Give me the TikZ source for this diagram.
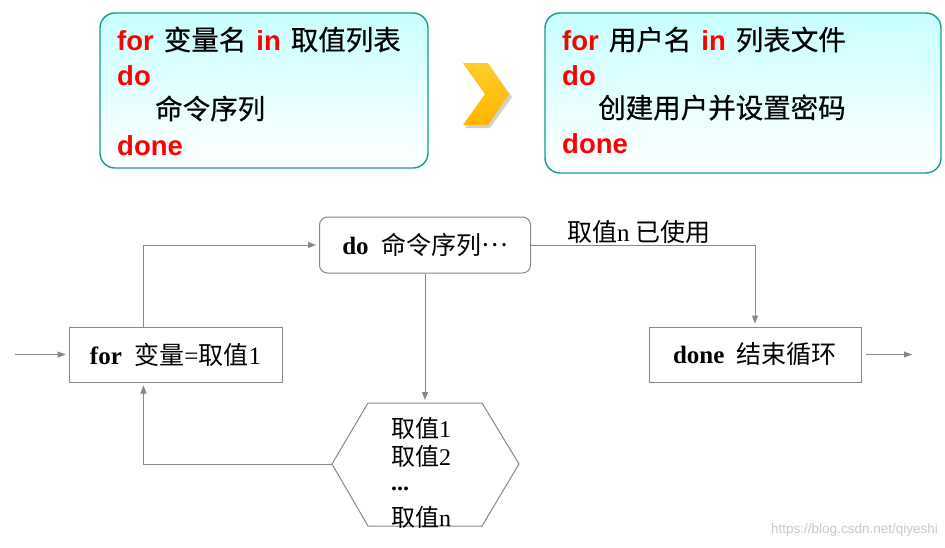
\documentclass[tikz,border=0pt]{standalone}
\usepackage{fontspec}
\setmainfont{Liberation Serif}
\newfontfamily\cjk{Noto Sans CJK SC}
\newfontfamily\cjkb[FakeBold=0.5]{Noto Sans CJK SC}
\newfontfamily\arial{Liberation Sans}
\usetikzlibrary{arrows.meta,calc}
\definecolor{teal0}{RGB}{20,155,145}
\definecolor{cyan0}{RGB}{200,255,255}
\definecolor{lgray}{RGB}{135,135,135}
\definecolor{kred}{RGB}{255,0,0}
\definecolor{gold1}{RGB}{255,205,40}
\definecolor{gold2}{RGB}{255,180,0}
\newcommand{\kw}[1]{\textcolor{kred}{\arial\bfseries #1}}
\newcommand{\gap}{\hspace{10pt}}
\begin{document}
\begin{tikzpicture}[x=1pt,y=-1pt,
  topbox/.style={draw=teal0, line width=1.4pt, rounded corners=15pt, top color=cyan0, bottom color=white, inner sep=0pt},
  toptxt/.style={anchor=base west, inner sep=0pt, font=\fontsize{27.5}{30}\selectfont},
  flowbox/.style={draw=lgray, line width=1pt, minimum width=212pt, minimum height=55pt, inner sep=0pt, fill=white, font=\fontsize{25}{29}\selectfont},
  hextxt/.style={anchor=base west, inner sep=0pt, font=\fontsize{24}{28}\selectfont},
  arr/.style={draw=lgray, line width=1pt, -{Triangle[length=8pt,width=6pt]}, shorten >=3pt},
  ln/.style={draw=lgray, line width=1pt}
]
\useasboundingbox (0,0) rectangle (945,547);

% top left box
\node[topbox, minimum width=328pt, minimum height=155pt] (tl) at (264,90.5) {};
\node[toptxt] (tl1) at (117,50) {\kw{for}\gap{\cjkb 变量名}\gap\kw{in}\gap{\cjkb 取值列表}};
\node[toptxt] (tl2) at (117,85) {\kw{do}};
\node[toptxt] (tl3) at (155,119) {{\cjkb 命令序列}};
\node[toptxt] (tl4) at (117,155) {\kw{done}};

% chevron
\fill[black, opacity=0.18] (465,66) -- (490,66) -- (512,97) -- (490,128) -- (465,128) -- (487,97) -- cycle;
\shade[top color=gold1, bottom color=gold2] (463,63) -- (488,63) -- (509,94) -- (488,125) -- (463,125) -- (485,94) -- cycle;

% top right box
\node[topbox, minimum width=396pt, minimum height=160pt] (tr) at (743,93) {};
\node[toptxt] (tr1) at (562,50) {\kw{for}\gap{\cjkb 用户名}\gap\kw{in}\gap{\cjkb 列表文件}};
\node[toptxt] (tr2) at (562,85) {\kw{do}};
\node[toptxt] (tr3) at (598,118) {{\cjkb 创建用户并设置密码}};
\node[toptxt] (tr4) at (562,153) {\kw{done}};

% flow boxes
\node[flowbox, minimum width=213pt] (for) at (175.5,354.5) {\textbf{for}\ \ {\cjk 变量}={\cjk 取值}1};
\node[flowbox, rounded corners=8pt, minimum width=211pt, minimum height=56pt] (do) at (425,245) {\textbf{do}\ \ {\cjk 命令序列\raisebox{0.33em}{…}}};
\node[flowbox] (done) at (755,354.5) {\textbf{done}\ \ {\cjk 结束循环}};

% hexagon
\coordinate (hT) at (425,403);
\coordinate (hL) at (332,464);
\draw[ln] (368,403) -- (482,403) -- (519,464) -- (482,526) -- (368,526) -- (hL) -- cycle;
\node[hextxt] (v1) at (391,437) {{\cjk 取值}1};
\node[hextxt] (v2) at (391,465) {{\cjk 取值}2};
\node[hextxt] (v3) at (391,490) {\textbf{...}};
\node[hextxt] (v4) at (391,526) {{\cjk 取值}n};

% connectors
\coordinate (in) at (15,354.5);
\coordinate (out) at (912,354.5);
\draw[arr] (in) -- (for.west);
\draw[arr] ($(for.north west)+(75,0)$) |- (do.west);
\draw[arr] (do.south) -- (hT);
\draw[arr] (hL) -| ($(for.south west)+(75,0)$);
\draw[arr] (do.east) -| (done.north);
\draw[arr, shorten <=4pt, shorten >=0pt] (done.east) -- (out);
\node[anchor=base west, inner sep=0pt, font=\fontsize{25}{29}\selectfont] (lab) at (567,241) {{\cjk 取值}n {\cjk 已使用}};

% watermark
\node[anchor=base east, inner sep=0pt, text=black!22, font=\arial\fontsize{13.5}{16}\selectfont] (wm) at (938,533) {https://blog.csdn.net/qiyeshi};
\end{tikzpicture}
\end{document}
